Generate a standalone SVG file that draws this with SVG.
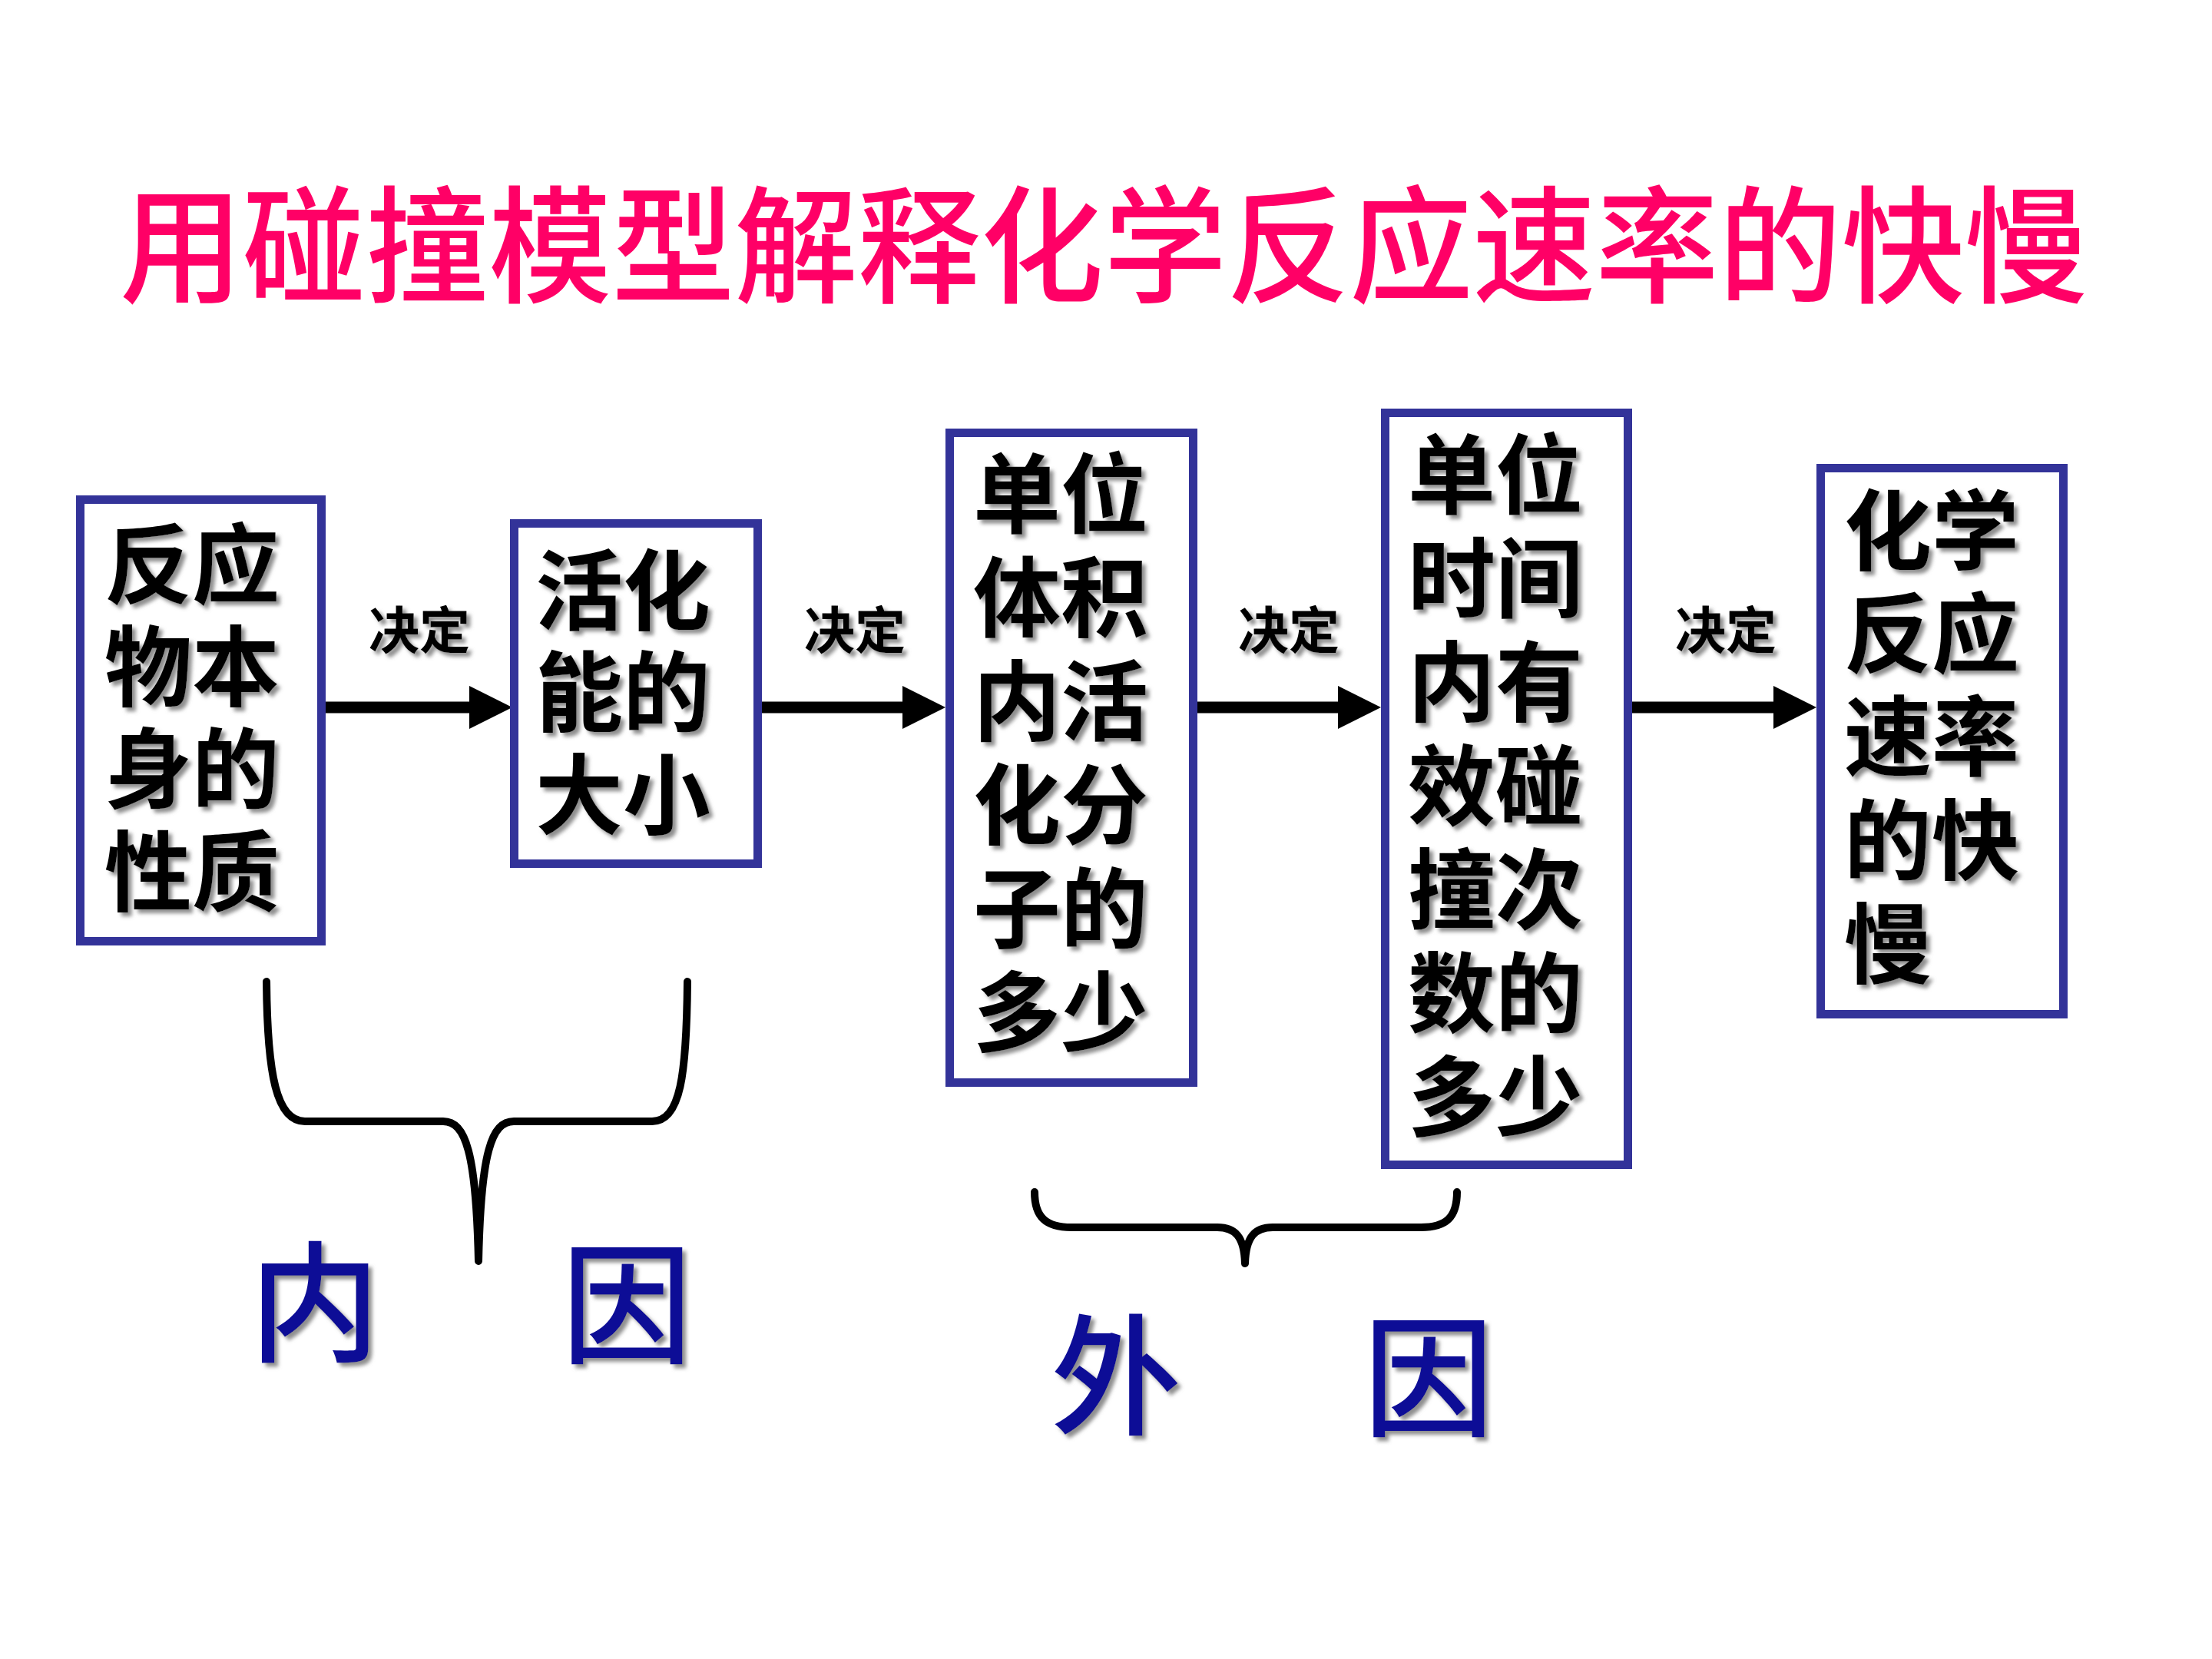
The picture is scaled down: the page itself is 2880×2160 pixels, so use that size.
<svg xmlns="http://www.w3.org/2000/svg" width="2880" height="2160" viewBox="0 0 2880 2160">
<defs>
<filter id="sh" x="-10%" y="-10%" width="130%" height="130%">
<feDropShadow dx="5" dy="5" stdDeviation="2.5" flood-color="#7a7a7a" flood-opacity="0.85"/>
</filter>
<marker id="ah" markerUnits="userSpaceOnUse" markerWidth="56" markerHeight="56" viewBox="0 0 56 56" refX="2" refY="28" orient="auto">
<path d="M0,0 L56,28 L0,56 z" fill="#000"/>
</marker>
</defs>
<style>
.box{fill:#fff;stroke:#333399;stroke-width:11}
.t{font-family:"Noto Sans CJK SC","Noto Sans CJK TC",sans-serif;font-weight:700;font-size:114px;fill:#000;filter:url(#sh)}
.lbl{font-family:"Noto Sans CJK SC",sans-serif;font-weight:700;font-size:66px;fill:#000;text-anchor:middle;filter:url(#sh)}
.cause{font-family:"Noto Sans CJK SC",sans-serif;font-weight:500;font-size:170px;fill:#0b0b96;text-anchor:middle;filter:url(#sh)}
.title{font-family:"Noto Sans CJK SC",sans-serif;font-weight:500;font-size:165px;fill:#ff0066}
.conn{fill:none;stroke:#000;stroke-width:15}
.brace{fill:none;stroke:#000;stroke-width:10;stroke-linecap:round;stroke-linejoin:round}
</style>
<rect width="2880" height="2160" fill="#fff"/>
<text class="title" x="156" y="381" textLength="2562" lengthAdjust="spacingAndGlyphs">用碰撞模型解释化学反应速率的快慢</text>

<g id="connectors">
<path class="conn" d="M424,921 L613,921" marker-end="url(#ah)"/>
<path class="conn" d="M992,921 L1177,921" marker-end="url(#ah)"/>
<path class="conn" d="M1559,921 L1744,921" marker-end="url(#ah)"/>
<path class="conn" d="M2125,921 L2311,921" marker-end="url(#ah)"/>
<text class="lbl" x="546" y="845">决定</text>
<text class="lbl" x="1113" y="845">决定</text>
<text class="lbl" x="1678" y="845">决定</text>
<text class="lbl" x="2247" y="845">决定</text>
</g>

<g id="node1">
<rect class="box" x="104.5" y="650.5" width="314" height="575"/>
<text class="t"><tspan x="136" y="777">反应</tspan><tspan x="136" y="910">物本</tspan><tspan x="136" y="1043">身的</tspan><tspan x="136" y="1177">性质</tspan></text>
</g>

<g id="node2">
<rect class="box" x="669.5" y="681.5" width="317" height="443"/>
<text class="t"><tspan x="697" y="811">活化</tspan><tspan x="697" y="943">能的</tspan><tspan x="697" y="1077">大小</tspan></text>
</g>

<g id="node3">
<rect class="box" x="1236.5" y="563.5" width="317" height="846"/>
<text class="t"><tspan x="1267" y="685">单位</tspan><tspan x="1267" y="820">体积</tspan><tspan x="1267" y="955">内活</tspan><tspan x="1267" y="1090">化分</tspan><tspan x="1267" y="1225">子的</tspan><tspan x="1267" y="1360">多少</tspan></text>
</g>

<g id="node4">
<rect class="box" x="1803.5" y="537.5" width="316" height="979"/>
<text class="t"><tspan x="1833" y="660">单位</tspan><tspan x="1833" y="795">时间</tspan><tspan x="1833" y="930">内有</tspan><tspan x="1833" y="1065">效碰</tspan><tspan x="1833" y="1200">撞次</tspan><tspan x="1833" y="1335">数的</tspan><tspan x="1833" y="1470">多少</tspan></text>
</g>

<g id="node5">
<rect class="box" x="2370.5" y="609.5" width="316" height="711"/>
<text class="t"><tspan x="2401" y="733">化学</tspan><tspan x="2401" y="867">反应</tspan><tspan x="2401" y="1001">速率</tspan><tspan x="2401" y="1136">的快</tspan><tspan x="2401" y="1271">慢</tspan></text>
</g>

<g id="brace-internal">
<path class="brace" d="M347,1278 C348,1400 360,1460 397,1460 L577,1460 C606,1460 620,1500 623,1642 C626,1500 640,1460 669,1460 L849,1460 C886,1460 894,1400 895,1278"/>
<text class="cause" x="410" y="1760">内</text>
<text class="cause" x="816" y="1762">因</text>
</g>

<g id="brace-external">
<path class="brace" d="M1347,1552 C1347,1585 1362,1598 1395,1598 L1585,1598 C1608,1598 1620,1610 1621,1645 C1622,1610 1634,1598 1657,1598 L1850,1598 C1883,1598 1897,1585 1897,1552"/>
<text class="cause" x="1453" y="1855">外</text>
<text class="cause" x="1860" y="1857">因</text>
</g>
</svg>
